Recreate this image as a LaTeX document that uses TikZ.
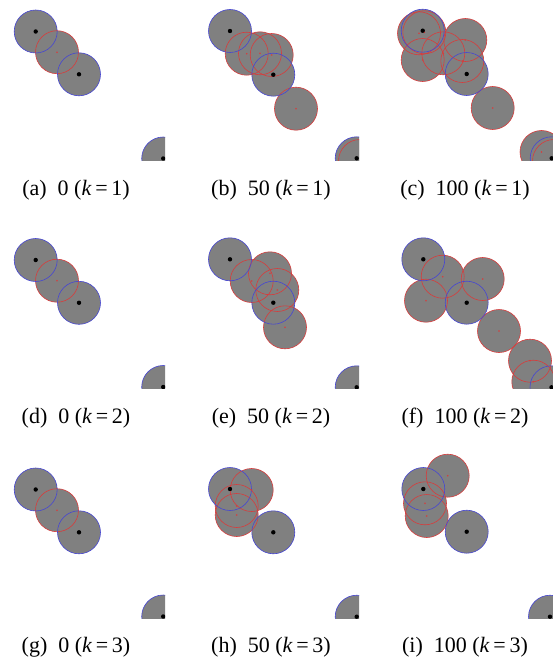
\documentclass[tikz,border=0pt]{standalone}
\usepackage{fontspec}
\setmainfont{Liberation Serif}
\definecolor{pgray}{RGB}{128,128,128}
\definecolor{pblue}{RGB}{70,70,210}
\definecolor{pred}{RGB}{215,60,60}
\tikzset{
  capnode/.style={font=\fontsize{22}{25}\selectfont, inner sep=0pt, anchor=center},
  pfill/.style={fill=pgray, draw=none},
  predline/.style={draw=pred, line width=0.6pt},
  pblueline/.style={draw=pblue, line width=0.6pt},
}
\newcommand{\prad}{21.5}
% #1 x-offset, #2 y-offset, #3 blue list, #4 red list
\newcommand{\mypanel}[4]{%
  \begin{scope}[shift={(#1,#2)}]
    \clip (-10,-15) rectangle (165,160);
    \foreach \p in {#4} {\path[pfill] \p circle (\prad);}
    \foreach \p in {#3} {\path[pfill] \p circle (\prad);}
    \foreach \p in {#4} {\path[predline] \p circle (\prad);}
    \foreach \p in {#3} {\path[pblueline] \p circle (\prad);}
    \foreach \p in {#4} {\fill[pred] \p circle (0.9);}
    \foreach \p in {#3} {\fill[black] \p circle (2.2);}
  \end{scope}}
\begin{document}
\begin{tikzpicture}[x=1pt,y=-1pt]
\useasboundingbox[fill=white] (0,0) rectangle (553,658);
% row 1
\mypanel{0}{0}{(35.7,31.5),(79,74.3),(163.2,158.5)}{(57,52.2)}
\mypanel{194}{0}{(36,31),(79.3,74.7),(162.7,158.3)}{(52.7,53.7),(66,53.3),(77.7,55),(102,108.7),(166,161)}
\mypanel{388}{0}{(34.7,30.7),(78.7,74),(163.7,158.3)}{(31,33.3),(36.3,32.3),(77.3,40),(55.3,53.3),(34.7,60),(74.3,61),(104.7,108),(153.5,152),(166,161)}
% row 2
\mypanel{0}{228.5}{(35.7,31.5),(79,74.3),(163.2,158.5)}{(57,52.2)}
\mypanel{194}{228.5}{(36,30.8),(79.3,74.2),(162.7,158.8)}{(76,44.8),(57.7,52.5),(83.3,61.5),(91,98.8)}
\mypanel{388}{228.5}{(35.3,30.8),(78.7,74.2),(163.5,158.8)}{(54.7,48.2),(94.7,50.5),(38,72.2),(111,102.5),(142,132.2),(145.3,153.2)}
% row 3
\mypanel{0}{458}{(35.7,31.5),(79,74.3),(163.2,158.5)}{(57,52.2)}
\mypanel{194}{458}{(36,31),(79.3,74.3),(162.7,158.7)}{(57.7,32),(42.7,48),(42.7,57)}
\mypanel{388}{458}{(35.3,31),(78.7,73.7),(162,158.7)}{(59.7,17.7),(37,45.3),(38.7,58)}
% captions
\node[capnode] (ca) at (76,190) {(a)\ \ 0 (\textit{k}\,=\,1)};
\node[capnode] (cb) at (271,190) {(b)\ \ 50 (\textit{k}\,=\,1)};
\node[capnode] (cc) at (465,190) {(c)\ \ 100 (\textit{k}\,=\,1)};
\node[capnode] (cd) at (76,418.5) {(d)\ \ 0 (\textit{k}\,=\,2)};
\node[capnode] (ce) at (271,418.5) {(e)\ \ 50 (\textit{k}\,=\,2)};
\node[capnode] (cf) at (465,418.5) {(f)\ \ 100 (\textit{k}\,=\,2)};
\node[capnode] (cg) at (76,647) {(g)\ \ 0 (\textit{k}\,=\,3)};
\node[capnode] (ch) at (271,647) {(h)\ \ 50 (\textit{k}\,=\,3)};
\node[capnode] (ci) at (465,647) {(i)\ \ 100 (\textit{k}\,=\,3)};
\end{tikzpicture}
\end{document}
